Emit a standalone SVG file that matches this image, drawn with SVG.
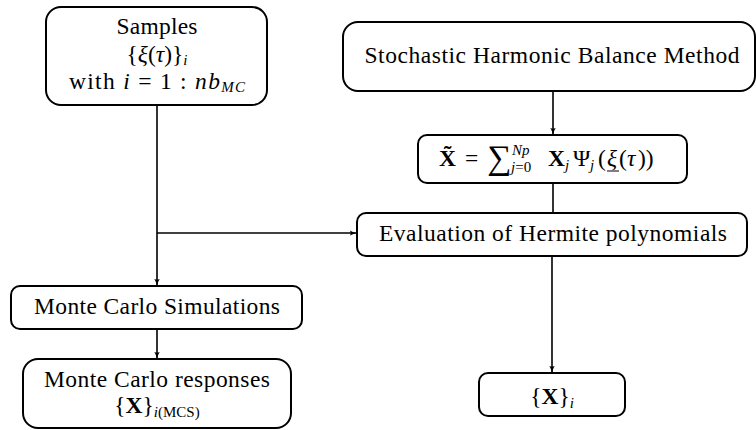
<svg xmlns="http://www.w3.org/2000/svg" width="756" height="430" viewBox="0 0 756 430">
<style>
.box{fill:#fff;stroke:#000;stroke-width:2}
.t{font-family:"Liberation Serif","DejaVu Serif",serif;font-size:23.5px;fill:#000}
.m{text-anchor:middle}
.i{font-style:italic}
.b{font-weight:bold}
.s{font-size:15px}
.c{fill:none;stroke:#000;stroke-width:1.6}
</style>
<defs>
<marker id="ah" viewBox="0 0 10 10" refX="9" refY="5" markerWidth="7" markerHeight="7" markerUnits="userSpaceOnUse" orient="auto">
<path d="M0,1 Q5,4 10,5 Q5,6 0,9 Q3,5 0,1Z" fill="#000"/>
</marker>
</defs>
<g id="connectors">
<path class="c" d="M157,105 V285" marker-end="url(#ah)"/>
<path class="c" d="M157,233 H356" marker-end="url(#ah)"/>
<path class="c" d="M553,91 V134" marker-end="url(#ah)"/>
<path class="c" d="M553,183 V213"/>
<path class="c" d="M552,256 V372" marker-end="url(#ah)"/>
<path class="c" d="M157,329 V358" marker-end="url(#ah)"/>
</g>
<g id="samples">
<rect class="box" x="46" y="7" width="221" height="98" rx="15"/>
<text class="t m" x="157" y="34" textLength="81">Samples</text>
<text class="t m" x="157" y="62">{<tspan class="i">ξ</tspan>(<tspan class="i">τ</tspan>)}<tspan class="i s" dy="3">i</tspan></text>
<text class="t m" x="157" y="89" textLength="176">with <tspan class="i">i</tspan> = 1 : <tspan class="i">nb</tspan><tspan class="i s" dy="3">MC</tspan></text>
</g>
<g id="shbm">
<rect class="box" x="343" y="22" width="412" height="69" rx="15"/>
<text class="t m" x="552" y="63" textLength="375">Stochastic Harmonic Balance Method</text>
</g>
<g id="expansion">
<rect class="box" x="418" y="135" width="269" height="48" rx="9"/>
<text class="t"><tspan class="b" x="439" y="166">X̃</tspan><tspan x="465" y="166">=</tspan><tspan x="487" y="169" font-size="34px">∑</tspan><tspan class="i s" x="512" y="155">Np</tspan><tspan class="s" x="511" y="172"><tspan class="i">j</tspan>=0</tspan><tspan class="b" x="548" y="166">X</tspan><tspan class="i s" x="565" y="170">j</tspan><tspan x="573" y="166">Ψ</tspan><tspan class="i s" x="590" y="170">j</tspan><tspan x="598" y="166">(</tspan><tspan class="i" x="607" y="166">ξ</tspan><tspan x="619" y="166">(</tspan><tspan class="i" x="627" y="166">τ</tspan><tspan x="638" y="166">))</tspan></text>
<line x1="607" y1="171" x2="619" y2="171" stroke="#000" stroke-width="1"/>
</g>
<g id="evaluation">
<rect class="box" x="357" y="213" width="390" height="43" rx="9"/>
<text class="t m" x="553" y="241" textLength="348">Evaluation of Hermite polynomials</text>
</g>
<g id="mcs">
<rect class="box" x="11" y="286" width="291" height="43" rx="9"/>
<text class="t m" x="157" y="314" textLength="246">Monte Carlo Simulations</text>
</g>
<g id="mcresp">
<rect class="box" x="23" y="359" width="268" height="69" rx="15"/>
<text class="t m" x="157" y="387" textLength="226">Monte Carlo responses</text>
<text class="t m" x="157" y="413">{<tspan class="b">X</tspan>}<tspan class="s" dy="4"><tspan class="i">i</tspan>(MCS)</tspan></text>
</g>
<g id="xi">
<rect class="box" x="479" y="373" width="146" height="43" rx="9"/>
<text class="t m" x="552" y="404">{<tspan class="b">X</tspan>}<tspan class="i s" dy="4">i</tspan></text>
</g>
</svg>
